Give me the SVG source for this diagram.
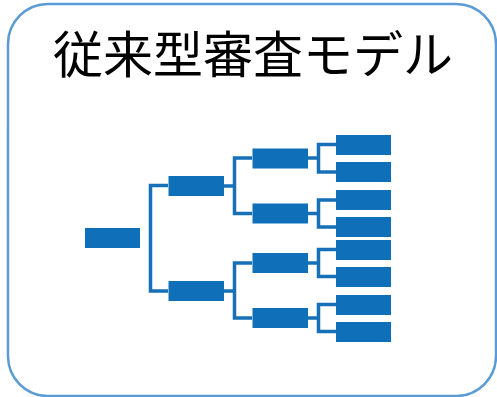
<svg xmlns="http://www.w3.org/2000/svg" width="497" height="397" viewBox="0 0 497 397">
<style>
.n{fill:#0f6fb8}
.c{fill:none;stroke:#1670b8;stroke-width:3.500}
text{font-family:"Noto Sans CJK JP","Noto Sans CJK SC",sans-serif;font-size:50px;fill:#000}
</style>
<rect width="497" height="397" fill="#fff"/>
<g id="frame"><rect x="8" y="4" width="488" height="392" rx="40" fill="#fff" stroke="#5b9bd5" stroke-width="2.500"/></g>
<g id="title"><text x="253" y="73" text-anchor="middle">従来型審査モデル</text></g>
<g id="connectors">
<path class="c" d="M168 185.500H150.500V291H168"/>
<path class="c" d="M224 186H234.500M252 158H234.500V213.500H252"/>
<path class="c" d="M224 291H234.500M252 263H234.500V318H252"/>
<path class="c" d="M308 158H318.500M336 144.500H318.500V172H336"/>
<path class="c" d="M308 213.500H318.500M336 200H318.500V227H336"/>
<path class="c" d="M308 263H318.500M336 249.500H318.500V276.500H336"/>
<path class="c" d="M308 318H318.500M336 304.500H318.500V331.500H336"/>
</g>
<g id="root"><rect class="n" x="85" y="228" width="55" height="20"/></g>
<g id="n1"><rect class="n" x="168.500" y="176" width="55.500" height="20"/></g>
<g id="n2"><rect class="n" x="168.500" y="281" width="55.500" height="20"/></g>
<g id="n11"><rect class="n" x="252.500" y="148.500" width="55.500" height="20"/></g>
<g id="n12"><rect class="n" x="252.500" y="203.500" width="55.500" height="20"/></g>
<g id="n21"><rect class="n" x="252.500" y="253" width="55.500" height="20"/></g>
<g id="n22"><rect class="n" x="252.500" y="308" width="55.500" height="20"/></g>
<g id="l1"><rect class="n" x="336" y="135" width="55" height="20"/></g>
<g id="l2"><rect class="n" x="336" y="162" width="55" height="20"/></g>
<g id="l3"><rect class="n" x="336" y="190" width="55" height="20"/></g>
<g id="l4"><rect class="n" x="336" y="217" width="55" height="20"/></g>
<g id="l5"><rect class="n" x="336" y="240" width="55" height="20"/></g>
<g id="l6"><rect class="n" x="336" y="267" width="55" height="20"/></g>
<g id="l7"><rect class="n" x="336" y="295" width="55" height="20"/></g>
<g id="l8"><rect class="n" x="336" y="322" width="55" height="20"/></g>
</svg>
